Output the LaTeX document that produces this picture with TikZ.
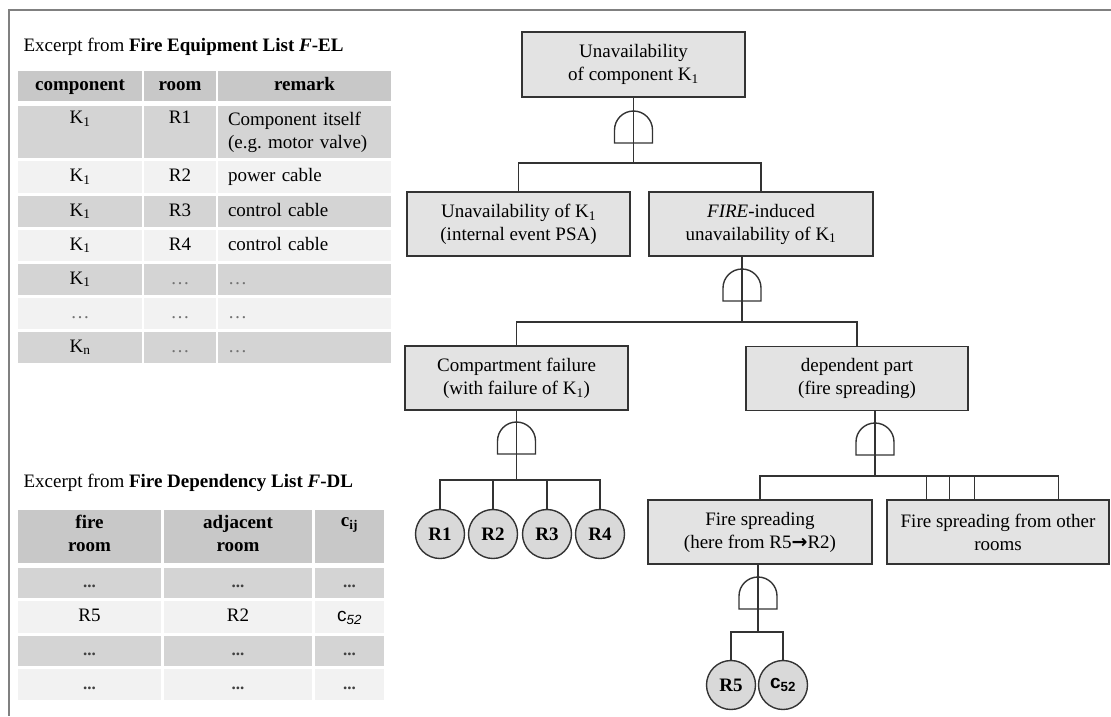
\documentclass[tikz,border=0pt]{standalone}
\usepackage{fontspec}
\setmainfont{Liberation Serif}
\setsansfont{Liberation Sans}
\newfontfamily\arrowfont{DejaVu Sans}
\usepackage{tikz}
\usetikzlibrary{calc}
\frenchspacing

\definecolor{framegray}{HTML}{808080}
\definecolor{headgray}{HTML}{C8C8C8}
\definecolor{darkrow}{HTML}{D4D4D4}
\definecolor{lightrow}{HTML}{F2F2F2}
\definecolor{boxgray}{HTML}{E3E3E3}
\definecolor{leafgray}{HTML}{D9D9D9}
\definecolor{linegray}{HTML}{333333}

\newcommand{\figfont}{\fontsize{19}{23}\selectfont}
\newcommand{\eldots}{{\color{black!55}\ldots}}
\newcommand{\dldots}{{\fontsize{17}{19}\selectfont\bfseries\color{black!75}...}}

\tikzset{
  cell/.style={anchor=north west, inner sep=0pt, outer sep=0pt, font=\figfont, align=center, minimum height=#1, execute at begin node={\strut}},
  cell/.default=31pt,
  hdcell/.style={cell=#1, fill=headgray, font=\figfont\bfseries},
  dkcell/.style={cell=#1, fill=darkrow},
  ltcell/.style={cell=#1, fill=lightrow},
  hdcell/.default=30pt, dkcell/.default=31pt, ltcell/.default=31pt,
  colA/.style={minimum width=124pt}, colB/.style={minimum width=72pt}, colC/.style={minimum width=173pt},
  colD/.style={minimum width=143pt}, colE/.style={minimum width=148pt}, colF/.style={minimum width=69pt},
  remark/.style={text width=153pt, inner xsep=10pt, align=left},
  event/.style={draw=linegray, line width=1.6pt, fill=boxgray, minimum width=223pt, minimum height=64pt, inner sep=0pt, align=center, font=\figfont},
  leaf/.style={circle, draw=linegray, line width=1.4pt, fill=leafgray, minimum size=49pt, inner sep=0pt, font=\fontsize{19}{21}\selectfont\bfseries},
  link/.style={draw=linegray, line width=1.4pt},
  andgate/.pic={\draw[link] (-19pt,0pt) -- (-19pt,13pt) arc[start angle=180, end angle=0, radius=19pt] -- (19pt,0pt) -- cycle;}
}

\begin{document}
\begin{tikzpicture}[x=1pt, y=-1pt]
  \useasboundingbox (0,0) rectangle (1111,716);
  \draw[framegray, line width=2pt] (1111,10) -- (9,10) -- (9,716);

  % Fire Equipment List
  \node[anchor=west, font=\figfont] (eltitle) at (20,47) {Excerpt from \textbf{Fire Equipment List \textit{F}-EL}};
  \node[hdcell, colA] (elh1) at (18,71) {component};
  \node[hdcell, colB] (elh2) at (144,71) {room};
  \node[hdcell, colC] (elh3) at (218,71) {remark};
  \node[dkcell=52pt, colA] (el1a) at (18,106) {K\textsubscript{1}\\\strut};
  \node[dkcell=52pt, colB] (el1b) at (144,106) {R1\\\strut};
  \node[dkcell=52pt, colC, remark] (el1c) at (218,106) {Component itself\\\strut(e.g. motor valve)};
  \node[ltcell=32pt, colA] (el2a) at (18,161) {K\textsubscript{1}};
  \node[ltcell=32pt, colB] (el2b) at (144,161) {R2};
  \node[ltcell=32pt, colC, remark] (el2c) at (218,161) {power cable};
  \node[dkcell, colA] (el3a) at (18,196) {K\textsubscript{1}};
  \node[dkcell, colB] (el3b) at (144,196) {R3};
  \node[dkcell, colC, remark] (el3c) at (218,196) {control cable};
  \node[ltcell, colA] (el4a) at (18,230) {K\textsubscript{1}};
  \node[ltcell, colB] (el4b) at (144,230) {R4};
  \node[ltcell, colC, remark] (el4c) at (218,230) {control cable};
  \node[dkcell, colA] (el5a) at (18,264) {K\textsubscript{1}};
  \node[dkcell, colB] (el5b) at (144,264) {\eldots};
  \node[dkcell, colC, remark] (el5c) at (218,264) {\eldots};
  \node[ltcell, colA] (el6a) at (18,298) {\eldots};
  \node[ltcell, colB] (el6b) at (144,298) {\eldots};
  \node[ltcell, colC, remark] (el6c) at (218,298) {\eldots};
  \node[dkcell, colA] (el7a) at (18,332) {K\textsubscript{n}};
  \node[dkcell, colB] (el7b) at (144,332) {\eldots};
  \node[dkcell, colC, remark] (el7c) at (218,332) {\eldots};

  % Fire Dependency List
  \node[anchor=west, font=\figfont] (dltitle) at (20,483) {Excerpt from \textbf{Fire Dependency List \textit{F}-DL}};
  \node[hdcell=53pt, colD] (dlh1) at (18,510) {fire\\\strut room};
  \node[hdcell=53pt, colE] (dlh2) at (164,510) {adjacent\\\strut room};
  \node[hdcell=53pt, colF] (dlh3) at (315,510) {c\textsubscript{ij}\\\strut};
  \node[dkcell=30pt, colD] (dl1a) at (18,568) {\dldots};
  \node[dkcell=30pt, colE] (dl1b) at (164,568) {\dldots};
  \node[dkcell=30pt, colF] (dl1c) at (315,568) {\dldots};
  \node[ltcell=32pt, colD] (dl2a) at (18,601) {R5};
  \node[ltcell=32pt, colE] (dl2b) at (164,601) {R2};
  \node[ltcell=32pt, colF] (dl2c) at (315,601) {\textsf{c\textsubscript{\itshape 52}}};
  \node[dkcell=30pt, colD] (dl3a) at (18,636) {\dldots};
  \node[dkcell=30pt, colE] (dl3b) at (164,636) {\dldots};
  \node[dkcell=30pt, colF] (dl3c) at (315,636) {\dldots};
  \node[ltcell, colD] (dl4a) at (18,669) {\dldots};
  \node[ltcell, colE] (dl4b) at (164,669) {\dldots};
  \node[ltcell, colF] (dl4c) at (315,669) {\dldots};

  % Fault tree events
  \node[event, minimum height=65pt] (top) at (633.5,64.5) {Unavailability\\of component K\textsubscript{1}};
  \node[event] (ina) at (518.5,224) {Unavailability of K\textsubscript{1}\\(internal event PSA)};
  \node[event, minimum width=224pt] (fire) at (761,224) {\textit{FIRE}-induced\\unavailability of K\textsubscript{1}};
  \node[event] (comp) at (516.5,378) {Compartment failure\\(with failure of K\textsubscript{1})};
  \node[event, minimum width=222pt] (dep) at (857,378.5) {dependent part\\(fire spreading)};
  \node[event, minimum width=224pt] (spr) at (760,532) {Fire spreading\\(here from R5{\arrowfont\bfseries →}R2)};
  \node[event, minimum width=222pt] (oth) at (998,532) {Fire spreading from other\\rooms};

  % Basic events
  \node[leaf] (r1) at (440,534) {R1};
  \node[leaf] (r2) at (493,534) {R2};
  \node[leaf] (r3) at (547,534) {R3};
  \node[leaf] (r4) at (600,534) {R4};
  \node[leaf] (r5) at (731,685) {R5};
  \node[leaf] (c52) at (783,685) {\textsf{c\textsubscript{52}}};

  % Connections
  \coordinate (j1) at (633.5,163);
  \draw[link] (top.south) -- (j1);
  \draw[link] (ina.north) |- (j1) -| (fire.north);
  \coordinate (j2) at (742,322);
  \draw[link] (fire.south -| j2) -- (j2);
  \draw[link] (comp.north) |- (j2) -| (dep.north);
  \coordinate (j3) at (516.5,480);
  \draw[link] (comp.south) -- (j3);
  \draw[link] (r1.north) |- (j3) -| (r4.north);
  \draw[link] (r2.north) -- (r2.north |- j3);
  \draw[link] (r3.north) -- (r3.north |- j3);
  \coordinate (j4) at (875,476);
  \draw[link] (dep.south -| j4) -- (j4);
  \draw[link] (spr.north) |- (j4) -| ($(oth.north west)!0.77!(oth.north east)$);
  \foreach \f in {0.18,0.284,0.396}
    \draw[link] ($(oth.north west)!\f!(oth.north east)$) -- ++(0,-24);
  \coordinate (j5) at (758,632);
  \draw[link] (spr.south -| j5) -- (j5);
  \draw[link] (r5.north) |- (j5) -| (c52.north);

  % AND gates
  \pic at (633.5,143) {andgate};
  \pic at (742,301) {andgate};
  \pic at (516.5,454) {andgate};
  \pic at (875,455) {andgate};
  \pic at (758,609) {andgate};
\end{tikzpicture}
\end{document}
